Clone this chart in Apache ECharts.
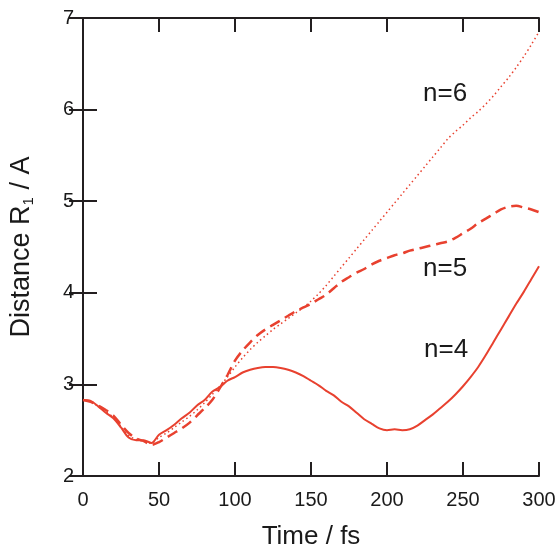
<!DOCTYPE html>
<html>
<head>
<meta charset="utf-8">
<script src="https://cdn.jsdelivr.net/npm/echarts@6/dist/echarts.min.js"></script>
<style>
  html, body { margin: 0; padding: 0; background: #fff; }
  #chart { width: 557px; height: 547px; }
</style>
</head>
<body>
<div id="chart"></div>
<script>
// time axis, fs (step 5)
var times = [];
for (var t = 0; t <= 300; t += 5) times.push(t);

var n4 = [2.83, 2.82, 2.76, 2.69, 2.63, 2.53, 2.42, 2.39, 2.39, 2.36, 2.45, 2.50, 2.56, 2.63, 2.69, 2.77,
  2.83, 2.92, 2.97, 3.04, 3.08, 3.13, 3.16, 3.18, 3.19, 3.19, 3.18, 3.16, 3.13, 3.09, 3.04, 2.99,
  2.93, 2.88, 2.81, 2.76, 2.69, 2.62, 2.57, 2.52, 2.50, 2.51, 2.50, 2.51, 2.55, 2.61, 2.67, 2.74,
  2.81, 2.89, 2.98, 3.08, 3.19, 3.32, 3.46, 3.60, 3.74, 3.88, 4.01, 4.15, 4.29];

var n5 = [2.83, 2.81, 2.77, 2.72, 2.66, 2.56, 2.47, 2.41, 2.38, 2.34, 2.37, 2.42, 2.47, 2.52, 2.58, 2.66,
  2.74, 2.83, 2.96, 3.10, 3.26, 3.37, 3.46, 3.54, 3.60, 3.65, 3.70, 3.75, 3.80, 3.84, 3.88, 3.93,
  3.98, 4.05, 4.12, 4.17, 4.22, 4.26, 4.31, 4.35, 4.38, 4.41, 4.43, 4.46, 4.48, 4.50, 4.52, 4.54,
  4.56, 4.60, 4.65, 4.70, 4.76, 4.81, 4.86, 4.91, 4.94, 4.95, 4.93, 4.91, 4.88];

var n6 = [2.83, 2.81, 2.76, 2.70, 2.64, 2.54, 2.44, 2.40, 2.38, 2.36, 2.42, 2.47, 2.53, 2.59, 2.65, 2.72,
  2.80, 2.89, 2.98, 3.08, 3.19, 3.29, 3.38, 3.46, 3.53, 3.60, 3.66, 3.72, 3.78, 3.84, 3.91, 3.99,
  4.08, 4.18, 4.28, 4.38, 4.48, 4.58, 4.68, 4.78, 4.88, 4.98, 5.08, 5.18, 5.28, 5.38, 5.48, 5.58,
  5.68, 5.76, 5.83, 5.91, 5.98, 6.06, 6.15, 6.25, 6.35, 6.46, 6.58, 6.71, 6.85];

var curveLabels = ['n=4', 'n=5', 'n=6'];

var red = '#e8412f';
var font = "'Liberation Sans', Arial, sans-serif";
var txt = '#1a1a1a';

function pairs(ys) {
  return times.map(function (x, i) { return [x, ys[i]]; });
}

var chart = echarts.init(document.getElementById('chart'));

var axisLine = { lineStyle: { color: '#231f20', width: 2 } };
var tickIn = { inside: true, length: 14, lineStyle: { color: '#231f20', width: 2 } };

var option = {
  animation: false,
  grid: { left: 83, right: 18, top: 18, bottom: 71, outerBoundsMode: 'none', containLabel: false },
  xAxis: [{
    type: 'value', min: 0, max: 300, interval: 50,
    axisLine: axisLine, axisTick: tickIn, splitLine: { show: false },
    axisLabel: { fontFamily: font, fontSize: 20, color: txt, margin: 14 },
    name: 'Time / fs', nameLocation: 'middle', nameGap: 48,
    nameTextStyle: { fontFamily: font, fontSize: 26, color: txt }
  }, {
    type: 'value', position: 'top', min: 0, max: 300, interval: 50,
    axisLine: axisLine, axisTick: tickIn, axisLabel: { show: false }, splitLine: { show: false }
  }],
  yAxis: [{
    type: 'value', min: 2, max: 7, interval: 1,
    axisLine: axisLine, axisTick: tickIn, splitLine: { show: false },
    axisLabel: { fontFamily: font, fontSize: 20, color: txt, margin: 9 },
    name: 'Distance R{sub|1} / A', nameLocation: 'middle', nameGap: 47,
    nameTextStyle: {
      fontFamily: font, fontSize: 27, color: txt,
      rich: { sub: { fontFamily: font, fontSize: 15, color: txt, verticalAlign: 'bottom', padding: [14, 0, 0, 0] } }
    }
  }, {
    type: 'value', position: 'right', min: 2, max: 7, interval: 1,
    axisLine: axisLine, axisTick: tickIn, axisLabel: { show: false }, splitLine: { show: false }
  }],
  series: [{
    name: curveLabels[0], type: 'line', data: pairs(n4), smooth: 0.3, showSymbol: false,
    lineStyle: { color: red, width: 2 }
  }, {
    name: curveLabels[1], type: 'line', data: pairs(n5), smooth: 0.3, showSymbol: false,
    lineStyle: { color: red, width: 2.5, type: [11, 6] }
  }, {
    name: curveLabels[2], type: 'line', data: pairs(n6), smooth: 0.3, showSymbol: false,
    lineStyle: { color: red, width: 1.5, type: [1.5, 3] }
  }],
  graphic: [
    { type: 'text', left: 423, top: 81, style: { text: curveLabels[2], font: '26px ' + font, fill: txt } },
    { type: 'text', left: 423, top: 256, style: { text: curveLabels[1], font: '26px ' + font, fill: txt } },
    { type: 'text', left: 424, top: 337, style: { text: curveLabels[0], font: '26px ' + font, fill: txt } }
  ]
};

chart.setOption(option);
</script>
</body>
</html>
